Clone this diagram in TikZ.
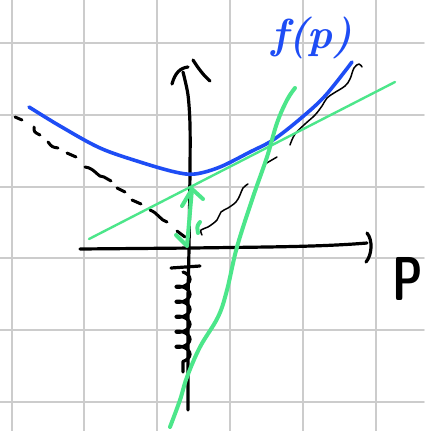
\documentclass[tikz,border=0pt]{standalone}
\usetikzlibrary{decorations.pathmorphing}
\definecolor{gridgray}{RGB}{204,204,204}
\definecolor{penblue}{RGB}{30,77,245}
\definecolor{pengreen}{RGB}{76,230,138}
\begin{document}
\begin{tikzpicture}[x=1pt,y=-1pt, line cap=round, line join=round,
  gridline/.style={gridgray, line width=1.6pt},
  pen/.style={black, line width=3.2pt},
  dashpen/.style={black, line width=3pt},
  thinpen/.style={black, line width=1.5pt},
  bluepen/.style={penblue, line width=3.6pt},
  greenthick/.style={pengreen, line width=4pt},
  greenthin/.style={pengreen, line width=2.4pt}]
\useasboundingbox (0,0) rectangle (424,431);
\fill[white] (0,0) rectangle (424,431);
% grid
\foreach \x in {12,84,157,230,303,376} \draw[gridline] (\x,0) -- (\x,431);
\foreach \y in {43,115,187,258,330,402} \draw[gridline] (0,\y) -- (424,\y);
% left dashed line
\draw[dashpen] (15,117) -- (22,120);
\draw[dashpen] (34,127) .. controls (34,132) .. (40,135);
\draw[dashpen] (48,142) .. controls (52,147) .. (58,148);
\draw[dashpen] (67,153) -- (76,157);
\draw[dashpen] (85,167) .. controls (95,168) and (98,178) .. (104,177) -- (111,181);
\draw[dashpen] (117,188) -- (125,192);
\draw[dashpen] (132,200) -- (141,204);
\draw[dashpen] (150,210) .. controls (158,213) and (160,220) .. (167,222);
\draw[dashpen] (177,231) -- (185,237);
% thin wavy right line
\draw[thinpen] plot[smooth, tension=0.6] coordinates {(202,235) (201,230) (208,227) (217,220) (221,212) (228,208) (236,202) (240,195) (243,188) (248,184)};
\draw[thinpen] (265,164) -- (277,157);
\draw[thinpen] plot[smooth, tension=0.6] coordinates {(290,145) (295,134) (305,124) (315,115) (322,106) (327,98) (334,93) (345,86) (350,79) (354,68) (359,64) (362,67)};
% axes
\draw[pen] plot[smooth, tension=0.5] coordinates {(183,72) (188,95) (190,125) (190,170) (189,248) (188,300) (188,360) (188,410)};
\draw[pen] (172,84) .. controls (175,73) and (180,68) .. (188,67);
\draw[pen] (193,60) .. controls (198,68) and (204,76) .. (210,81);
\draw[pen] (80,249) -- (193,248) .. controls (260,247) and (320,247) .. (367,243);
\draw[pen] (367,233) .. controls (373,240) and (372,255) .. (366,262);
\draw[pen] (171,268) -- (200,266);
\draw[pen, decorate, decoration={coil, amplitude=7pt, segment length=15pt}] (183,272) -- (183,372);
% blue curve
\draw[bluepen] plot[smooth, tension=0.55] coordinates {(29,107) (60,126) (100,148) (140,162) (175,172) (195,174) (220,167) (250,152) (273,140) (300,119) (325,96) (352,62)};
% green lines
\draw[greenthin] (89,239) -- (395,82);
\draw[greenthick] plot[smooth, tension=0.6] coordinates {(170,427) (180,400) (187,377) (200,347) (218,317) (227,290) (237,247) (253,197) (267,157) (277,123) (287,100) (295,88)};
\draw[greenthick] (192,189) -- (187,246);
\draw[greenthick] (182,206) -- (192,189) -- (203,199);
\draw[greenthick] (176,235) -- (186,245);
\draw[greenthick] (200,222) .. controls (197,226) .. (198,233);
% labels
\node[text=penblue, font=\fontsize{42}{42}\selectfont\itshape\bfseries, inner sep=0pt] (flabel) at (312,38) {f(p)};
\node[font=\sffamily\bfseries\fontsize{62}{62}\selectfont, inner sep=0pt, anchor=base] (plabel) at (408,300) {\scalebox{0.7}[1]{P}};
\end{tikzpicture}
\end{document}
